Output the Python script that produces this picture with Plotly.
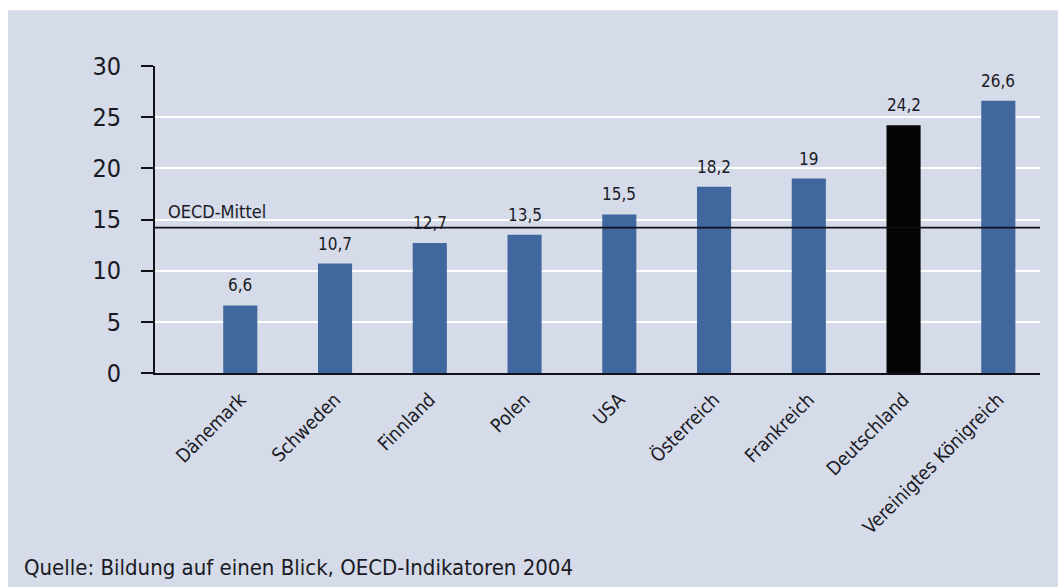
import plotly.graph_objects as go

countries = ["Dänemark", "Schweden", "Finnland", "Polen", "USA",
             "Österreich", "Frankreich", "Deutschland", "Vereinigtes Königreich"]
values = [6.6, 10.7, 12.7, 13.5, 15.5, 18.2, 19, 24.2, 26.6]
oecd_mean = 14.2
y_ticks = [0, 5, 10, 15, 20, 25, 30]

BLUE = "#41679f"
BG = "#d5dbe8"
FONT = "DejaVu Sans Condensed, Open Sans, sans-serif"
TXT = "#1a1a24"

colors = ["#050505" if c == "Deutschland" else BLUE for c in countries]
labels = [f"{v:g}".replace(".", ",") for v in values]
xs = list(range(len(countries)))

fig = go.Figure(go.Bar(
    x=xs, y=values, width=0.36,
    marker=dict(color=colors, line=dict(width=0)),
    hoverinfo="x+y",
))

# value labels above the bars
for x, v, lab in zip(xs, values, labels):
    fig.add_annotation(x=x, y=v, text=lab, showarrow=False, yanchor="bottom",
                       yshift=8, font=dict(family=FONT, size=17, color=TXT))

fig.add_shape(type="line", xref="paper", yref="y", x0=0, x1=1,
              y0=oecd_mean, y1=oecd_mean, line=dict(color="#101018", width=1.8))
fig.add_annotation(xref="paper", yref="y", x=0.012, y=oecd_mean, text="OECD-Mittel",
                   showarrow=False, xanchor="left", yanchor="bottom", yshift=4,
                   font=dict(family=FONT, size=18, color=TXT))
fig.add_annotation(xref="paper", yref="paper", x=-0.150, y=-0.635,
                   text="Quelle: Bildung auf einen Blick, OECD-Indikatoren 2004",
                   showarrow=False, xanchor="left", yanchor="middle",
                   font=dict(family=FONT, size=22, color=TXT))

# white border strips at left and top of the picture
fig.add_shape(type="rect", xref="paper", yref="paper", x0=-0.2, x1=-0.1661,
              y0=-1, y1=1.3, fillcolor="white", line=dict(width=0), layer="below")
fig.add_shape(type="rect", xref="paper", yref="paper", x0=-0.2, x1=1.1,
              y0=1.182, y1=1.3, fillcolor="white", line=dict(width=0), layer="below")

fig.update_layout(
    width=1058, height=587,
    margin=dict(l=155, r=18, t=66, b=214),
    paper_bgcolor=BG, plot_bgcolor=BG,
    showlegend=False,
    font=dict(family=FONT, color=TXT),
)
fig.update_xaxes(
    range=[-0.9, 8.44], tickmode="array", tickvals=xs,
    ticktext=countries, tickangle=-45, ticks="", showgrid=False,
    showline=True, linecolor="#101018", linewidth=2,
    tickfont=dict(family=FONT, size=19, color=TXT), ticklabelstandoff=6,
)
fig.update_yaxes(
    range=[0, 30], tickmode="array", tickvals=y_ticks, ticks="outside",
    ticklen=12, tickwidth=1.5, tickcolor="#101018",
    showline=True, linecolor="#101018", linewidth=2,
    showgrid=True, gridcolor="white", gridwidth=1.5, zeroline=False,
    tickfont=dict(family=FONT, size=25, color=TXT), ticklabelstandoff=15,
)

fig.write_html("out.html")
